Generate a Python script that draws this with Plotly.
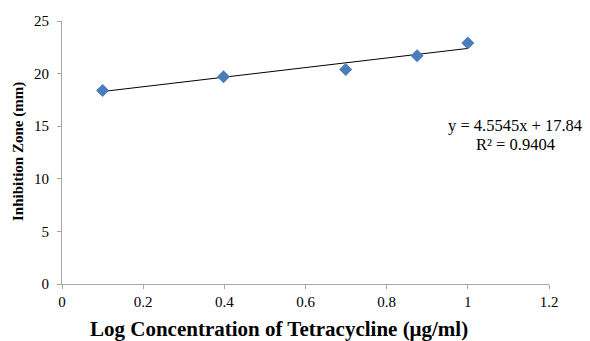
import plotly.graph_objects as go

log_conc = [0.1, 0.398, 0.699, 0.875, 1.0]
zone_mm = [18.4, 19.7, 20.4, 21.7, 22.9]
slope = 4.5545
intercept = 17.84
r2 = 0.9404
x_ticks = [0, 0.2, 0.4, 0.6, 0.8, 1, 1.2]
y_ticks = [0, 5, 10, 15, 20, 25]

fit_x = [min(log_conc), max(log_conc)]
fit_y = [slope * v + intercept for v in fit_x]

font = "Liberation Serif"
W, H = 590, 341
L, R, T, B = 62, 41, 21, 57
PW, PH = W - L - R, H - T - B


def px(x):
    return (x - L) / PW


def py(y):
    return ((H - B) - y) / PH


fig = go.Figure()
fig.add_trace(go.Scatter(x=fit_x, y=fit_y, mode="lines",
                         line=dict(color="black", width=1), showlegend=False))
fig.add_trace(go.Scatter(x=log_conc, y=zone_mm, mode="markers",
                         marker=dict(symbol="diamond", size=10, color="#4a7ebb"),
                         showlegend=False))
# trendline equation
fig.add_annotation(x=px(515), y=py(126), xref="paper", yref="paper",
                   text=f"y = {slope}x + {intercept}", showarrow=False,
                   font=dict(family=font, size=16.5, color="black"),
                   xanchor="center", yanchor="middle")
fig.add_annotation(x=px(515), y=py(144), xref="paper", yref="paper",
                   text=f"R² = {r2}", showarrow=False,
                   font=dict(family=font, size=16.5, color="black"),
                   xanchor="center", yanchor="middle")
# axis titles
fig.add_annotation(x=px(279), y=py(329), xref="paper", yref="paper", showarrow=False,
                   text="<b>Log Concentration of Tetracycline (μg/ml)</b>",
                   font=dict(family=font, size=21, color="black"),
                   xanchor="center", yanchor="middle")
fig.add_annotation(x=px(18), y=py(152), xref="paper", yref="paper",
                   showarrow=False, textangle=-90,
                   text="<b>Inhibition Zone (mm)</b>",
                   font=dict(family=font, size=15, color="black"),
                   xanchor="center", yanchor="middle")
fig.update_layout(
    width=W, height=H,
    margin=dict(l=L, r=R, t=T, b=B, autoexpand=False),
    paper_bgcolor="white", plot_bgcolor="white",
    font=dict(family=font, color="black"),
    xaxis=dict(range=[0, 1.2], tickvals=x_ticks, ticktext=[str(v) for v in x_ticks],
               showgrid=False, zeroline=False, showline=True, linecolor="#a6a6a6",
               linewidth=1, ticks="outside", ticklen=4, tickcolor="#a6a6a6",
               tickfont=dict(size=15, family=font), automargin=False),
    yaxis=dict(range=[0, 25], tickvals=y_ticks,
               showgrid=False, zeroline=False, showline=True, linecolor="#a6a6a6",
               linewidth=1, ticks="outside", ticklen=4, tickcolor="#a6a6a6",
               tickfont=dict(size=15, family=font), automargin=False,
               ticklabelstandoff=5),
)
fig.write_html("out.html", config={"displayModeBar": False},
               post_script="document.body.style.margin='0';")
